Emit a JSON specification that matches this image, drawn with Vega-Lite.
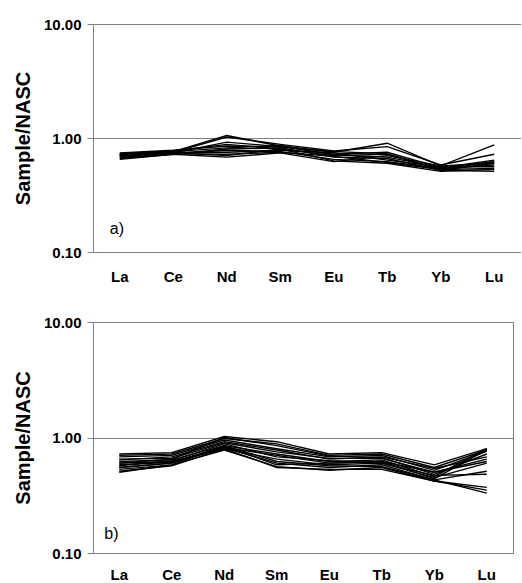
{
  "$schema": "https://vega.github.io/schema/vega-lite/v6.json",
  "padding": {"top": 17, "left": 12, "right": 0, "bottom": 0},
  "background": "white",
  "spacing": 30,
  "config": {
    "font": "Liberation Sans",
    "axis": {
      "labelFont": "Liberation Sans",
      "labelFontWeight": "bold",
      "labelFontSize": 15,
      "labelColor": "black",
      "titleFont": "Liberation Sans",
      "titleFontWeight": "bold",
      "titleFontSize": 20,
      "titleColor": "black",
      "domainColor": "#808080",
      "tickColor": "#808080",
      "gridColor": "#808080",
      "gridOpacity": 1
    },
    "line": {"color": "black", "strokeWidth": 1.4}
  },
  "datasets": {
    "a": [
      {"sample": "a1", "element": "La", "value": 0.72}, {"sample": "a1", "element": "Ce", "value": 0.76}, {"sample": "a1", "element": "Nd", "value": 1.05}, {"sample": "a1", "element": "Sm", "value": 0.85}, {"sample": "a1", "element": "Eu", "value": 0.75}, {"sample": "a1", "element": "Tb", "value": 0.90}, {"sample": "a1", "element": "Yb", "value": 0.57}, {"sample": "a1", "element": "Lu", "value": 0.87},
      {"sample": "a2", "element": "La", "value": 0.70}, {"sample": "a2", "element": "Ce", "value": 0.75}, {"sample": "a2", "element": "Nd", "value": 1.02}, {"sample": "a2", "element": "Sm", "value": 0.88}, {"sample": "a2", "element": "Eu", "value": 0.77}, {"sample": "a2", "element": "Tb", "value": 0.84}, {"sample": "a2", "element": "Yb", "value": 0.58}, {"sample": "a2", "element": "Lu", "value": 0.72},
      {"sample": "a3", "element": "La", "value": 0.68}, {"sample": "a3", "element": "Ce", "value": 0.74}, {"sample": "a3", "element": "Nd", "value": 0.92}, {"sample": "a3", "element": "Sm", "value": 0.84}, {"sample": "a3", "element": "Eu", "value": 0.72}, {"sample": "a3", "element": "Tb", "value": 0.75}, {"sample": "a3", "element": "Yb", "value": 0.55}, {"sample": "a3", "element": "Lu", "value": 0.64},
      {"sample": "a4", "element": "La", "value": 0.73}, {"sample": "a4", "element": "Ce", "value": 0.77}, {"sample": "a4", "element": "Nd", "value": 0.88}, {"sample": "a4", "element": "Sm", "value": 0.80}, {"sample": "a4", "element": "Eu", "value": 0.70}, {"sample": "a4", "element": "Tb", "value": 0.72}, {"sample": "a4", "element": "Yb", "value": 0.53}, {"sample": "a4", "element": "Lu", "value": 0.62},
      {"sample": "a5", "element": "La", "value": 0.66}, {"sample": "a5", "element": "Ce", "value": 0.72}, {"sample": "a5", "element": "Nd", "value": 0.80}, {"sample": "a5", "element": "Sm", "value": 0.82}, {"sample": "a5", "element": "Eu", "value": 0.68}, {"sample": "a5", "element": "Tb", "value": 0.66}, {"sample": "a5", "element": "Yb", "value": 0.52}, {"sample": "a5", "element": "Lu", "value": 0.60},
      {"sample": "a6", "element": "La", "value": 0.69}, {"sample": "a6", "element": "Ce", "value": 0.73}, {"sample": "a6", "element": "Nd", "value": 0.78}, {"sample": "a6", "element": "Sm", "value": 0.76}, {"sample": "a6", "element": "Eu", "value": 0.65}, {"sample": "a6", "element": "Tb", "value": 0.62}, {"sample": "a6", "element": "Yb", "value": 0.54}, {"sample": "a6", "element": "Lu", "value": 0.58},
      {"sample": "a7", "element": "La", "value": 0.71}, {"sample": "a7", "element": "Ce", "value": 0.75}, {"sample": "a7", "element": "Nd", "value": 0.75}, {"sample": "a7", "element": "Sm", "value": 0.78}, {"sample": "a7", "element": "Eu", "value": 0.74}, {"sample": "a7", "element": "Tb", "value": 0.64}, {"sample": "a7", "element": "Yb", "value": 0.56}, {"sample": "a7", "element": "Lu", "value": 0.56},
      {"sample": "a8", "element": "La", "value": 0.67}, {"sample": "a8", "element": "Ce", "value": 0.74}, {"sample": "a8", "element": "Nd", "value": 0.70}, {"sample": "a8", "element": "Sm", "value": 0.80}, {"sample": "a8", "element": "Eu", "value": 0.63}, {"sample": "a8", "element": "Tb", "value": 0.60}, {"sample": "a8", "element": "Yb", "value": 0.51}, {"sample": "a8", "element": "Lu", "value": 0.53},
      {"sample": "a9", "element": "La", "value": 0.72}, {"sample": "a9", "element": "Ce", "value": 0.76}, {"sample": "a9", "element": "Nd", "value": 0.82}, {"sample": "a9", "element": "Sm", "value": 0.86}, {"sample": "a9", "element": "Eu", "value": 0.71}, {"sample": "a9", "element": "Tb", "value": 0.68}, {"sample": "a9", "element": "Yb", "value": 0.55}, {"sample": "a9", "element": "Lu", "value": 0.62},
      {"sample": "a10", "element": "La", "value": 0.70}, {"sample": "a10", "element": "Ce", "value": 0.73}, {"sample": "a10", "element": "Nd", "value": 0.72}, {"sample": "a10", "element": "Sm", "value": 0.75}, {"sample": "a10", "element": "Eu", "value": 0.69}, {"sample": "a10", "element": "Tb", "value": 0.61}, {"sample": "a10", "element": "Yb", "value": 0.53}, {"sample": "a10", "element": "Lu", "value": 0.54},
      {"sample": "a11", "element": "La", "value": 0.65}, {"sample": "a11", "element": "Ce", "value": 0.72}, {"sample": "a11", "element": "Nd", "value": 0.68}, {"sample": "a11", "element": "Sm", "value": 0.74}, {"sample": "a11", "element": "Eu", "value": 0.62}, {"sample": "a11", "element": "Tb", "value": 0.70}, {"sample": "a11", "element": "Yb", "value": 0.57}, {"sample": "a11", "element": "Lu", "value": 0.60},
      {"sample": "a12", "element": "La", "value": 0.74}, {"sample": "a12", "element": "Ce", "value": 0.78}, {"sample": "a12", "element": "Nd", "value": 0.85}, {"sample": "a12", "element": "Sm", "value": 0.84}, {"sample": "a12", "element": "Eu", "value": 0.76}, {"sample": "a12", "element": "Tb", "value": 0.73}, {"sample": "a12", "element": "Yb", "value": 0.52}, {"sample": "a12", "element": "Lu", "value": 0.51}
    ],
    "b": [
      {"sample": "b1", "element": "La", "value": 0.72}, {"sample": "b1", "element": "Ce", "value": 0.74}, {"sample": "b1", "element": "Nd", "value": 1.02}, {"sample": "b1", "element": "Sm", "value": 0.92}, {"sample": "b1", "element": "Eu", "value": 0.72}, {"sample": "b1", "element": "Tb", "value": 0.74}, {"sample": "b1", "element": "Yb", "value": 0.58}, {"sample": "b1", "element": "Lu", "value": 0.80},
      {"sample": "b2", "element": "La", "value": 0.70}, {"sample": "b2", "element": "Ce", "value": 0.72}, {"sample": "b2", "element": "Nd", "value": 0.98}, {"sample": "b2", "element": "Sm", "value": 0.88}, {"sample": "b2", "element": "Eu", "value": 0.70}, {"sample": "b2", "element": "Tb", "value": 0.72}, {"sample": "b2", "element": "Yb", "value": 0.55}, {"sample": "b2", "element": "Lu", "value": 0.78},
      {"sample": "b3", "element": "La", "value": 0.68}, {"sample": "b3", "element": "Ce", "value": 0.70}, {"sample": "b3", "element": "Nd", "value": 0.95}, {"sample": "b3", "element": "Sm", "value": 0.80}, {"sample": "b3", "element": "Eu", "value": 0.68}, {"sample": "b3", "element": "Tb", "value": 0.70}, {"sample": "b3", "element": "Yb", "value": 0.52}, {"sample": "b3", "element": "Lu", "value": 0.76},
      {"sample": "b4", "element": "La", "value": 0.65}, {"sample": "b4", "element": "Ce", "value": 0.66}, {"sample": "b4", "element": "Nd", "value": 0.90}, {"sample": "b4", "element": "Sm", "value": 0.75}, {"sample": "b4", "element": "Eu", "value": 0.66}, {"sample": "b4", "element": "Tb", "value": 0.66}, {"sample": "b4", "element": "Yb", "value": 0.50}, {"sample": "b4", "element": "Lu", "value": 0.65},
      {"sample": "b5", "element": "La", "value": 0.62}, {"sample": "b5", "element": "Ce", "value": 0.64}, {"sample": "b5", "element": "Nd", "value": 0.85}, {"sample": "b5", "element": "Sm", "value": 0.72}, {"sample": "b5", "element": "Eu", "value": 0.62}, {"sample": "b5", "element": "Tb", "value": 0.64}, {"sample": "b5", "element": "Yb", "value": 0.46}, {"sample": "b5", "element": "Lu", "value": 0.80},
      {"sample": "b6", "element": "La", "value": 0.60}, {"sample": "b6", "element": "Ce", "value": 0.62}, {"sample": "b6", "element": "Nd", "value": 0.82}, {"sample": "b6", "element": "Sm", "value": 0.70}, {"sample": "b6", "element": "Eu", "value": 0.60}, {"sample": "b6", "element": "Tb", "value": 0.62}, {"sample": "b6", "element": "Yb", "value": 0.44}, {"sample": "b6", "element": "Lu", "value": 0.78},
      {"sample": "b7", "element": "La", "value": 0.58}, {"sample": "b7", "element": "Ce", "value": 0.61}, {"sample": "b7", "element": "Nd", "value": 0.80}, {"sample": "b7", "element": "Sm", "value": 0.65}, {"sample": "b7", "element": "Eu", "value": 0.58}, {"sample": "b7", "element": "Tb", "value": 0.60}, {"sample": "b7", "element": "Yb", "value": 0.45}, {"sample": "b7", "element": "Lu", "value": 0.60},
      {"sample": "b8", "element": "La", "value": 0.55}, {"sample": "b8", "element": "Ce", "value": 0.60}, {"sample": "b8", "element": "Nd", "value": 0.82}, {"sample": "b8", "element": "Sm", "value": 0.60}, {"sample": "b8", "element": "Eu", "value": 0.55}, {"sample": "b8", "element": "Tb", "value": 0.58}, {"sample": "b8", "element": "Yb", "value": 0.43}, {"sample": "b8", "element": "Lu", "value": 0.51},
      {"sample": "b9", "element": "La", "value": 0.53}, {"sample": "b9", "element": "Ce", "value": 0.58}, {"sample": "b9", "element": "Nd", "value": 0.78}, {"sample": "b9", "element": "Sm", "value": 0.56}, {"sample": "b9", "element": "Eu", "value": 0.52}, {"sample": "b9", "element": "Tb", "value": 0.55}, {"sample": "b9", "element": "Yb", "value": 0.42}, {"sample": "b9", "element": "Lu", "value": 0.37},
      {"sample": "b10", "element": "La", "value": 0.51}, {"sample": "b10", "element": "Ce", "value": 0.57}, {"sample": "b10", "element": "Nd", "value": 0.80}, {"sample": "b10", "element": "Sm", "value": 0.55}, {"sample": "b10", "element": "Eu", "value": 0.53}, {"sample": "b10", "element": "Tb", "value": 0.53}, {"sample": "b10", "element": "Yb", "value": 0.42}, {"sample": "b10", "element": "Lu", "value": 0.35},
      {"sample": "b11", "element": "La", "value": 0.50}, {"sample": "b11", "element": "Ce", "value": 0.58}, {"sample": "b11", "element": "Nd", "value": 0.85}, {"sample": "b11", "element": "Sm", "value": 0.62}, {"sample": "b11", "element": "Eu", "value": 0.57}, {"sample": "b11", "element": "Tb", "value": 0.56}, {"sample": "b11", "element": "Yb", "value": 0.43}, {"sample": "b11", "element": "Lu", "value": 0.33},
      {"sample": "b12", "element": "La", "value": 0.57}, {"sample": "b12", "element": "Ce", "value": 0.63}, {"sample": "b12", "element": "Nd", "value": 0.88}, {"sample": "b12", "element": "Sm", "value": 0.68}, {"sample": "b12", "element": "Eu", "value": 0.63}, {"sample": "b12", "element": "Tb", "value": 0.60}, {"sample": "b12", "element": "Yb", "value": 0.47}, {"sample": "b12", "element": "Lu", "value": 0.48},
      {"sample": "b13", "element": "La", "value": 0.64}, {"sample": "b13", "element": "Ce", "value": 0.68}, {"sample": "b13", "element": "Nd", "value": 0.92}, {"sample": "b13", "element": "Sm", "value": 0.78}, {"sample": "b13", "element": "Eu", "value": 0.65}, {"sample": "b13", "element": "Tb", "value": 0.68}, {"sample": "b13", "element": "Yb", "value": 0.54}, {"sample": "b13", "element": "Lu", "value": 0.68},
      {"sample": "b14", "element": "La", "value": 0.60}, {"sample": "b14", "element": "Ce", "value": 0.65}, {"sample": "b14", "element": "Nd", "value": 1.00}, {"sample": "b14", "element": "Sm", "value": 0.85}, {"sample": "b14", "element": "Eu", "value": 0.69}, {"sample": "b14", "element": "Tb", "value": 0.67}, {"sample": "b14", "element": "Yb", "value": 0.48}, {"sample": "b14", "element": "Lu", "value": 0.72},
      {"sample": "b15", "element": "La", "value": 0.55}, {"sample": "b15", "element": "Ce", "value": 0.60}, {"sample": "b15", "element": "Nd", "value": 0.84}, {"sample": "b15", "element": "Sm", "value": 0.58}, {"sample": "b15", "element": "Eu", "value": 0.60}, {"sample": "b15", "element": "Tb", "value": 0.62}, {"sample": "b15", "element": "Yb", "value": 0.50}, {"sample": "b15", "element": "Lu", "value": 0.62}
    ],
    "bounds": [{"element": "Ce"}, {"element": "Nd"}, {"element": "Sm"}, {"element": "Eu"}, {"element": "Tb"}, {"element": "Yb"}, {"element": "Lu"}],
    "labels_a": [{"element": "La", "value": 0.159, "label": "a)"}],
    "labels_b": [{"element": "La", "value": 0.145, "label": "b)"}]
  },
  "vconcat": [
    {
      "width": 428,
      "height": 228,
      "view": {"stroke": null},
      "encoding": {
        "x": {
          "field": "element", "type": "nominal", "sort": ["La", "Ce", "Nd", "Sm", "Eu", "Tb", "Yb", "Lu"], "bandPosition": 0.5,
          "scale": {"type": "band", "paddingInner": 0, "paddingOuter": 0},
          "axis": {"orient": "bottom", "title": null, "ticks": false, "domain": false, "labelPadding": 17, "labelAngle": 0, "grid": false}
        },
        "y": {
          "field": "value", "type": "quantitative",
          "scale": {"type": "log", "domain": [0.1, 10]},
          "axis": {"values": [0.1, 1, 10], "format": ".2f", "title": "Sample/NASC", "grid": true, "tickSize": 6, "labelPadding": 6, "titlePadding": 10}
        }
      },
      "layer": [
        {
          "data": {"name": "bounds"},
          "mark": {"type": "rule", "color": "#707070", "strokeWidth": 1},
          "encoding": {
            "x": {"field": "element", "type": "nominal", "sort": ["La", "Ce", "Nd", "Sm", "Eu", "Tb", "Yb", "Lu"], "bandPosition": 0},
            "y": {"datum": 1},
            "y2": {"datum": 0.904}
          }
        },
        {
          "data": {"name": "a"},
          "mark": {"type": "line"},
          "encoding": {
            "detail": {"field": "sample"}
          }
        },
        {
          "data": {"name": "labels_a"},
          "mark": {"type": "text", "align": "left", "baseline": "middle", "dx": -10, "fontSize": 16, "font": "Liberation Sans"},
          "encoding": {
            "text": {"field": "label"}
          }
        }
      ]
    },
    {
      "width": 420,
      "height": 231,
      "view": {"stroke": "#808080"},
      "encoding": {
        "x": {
          "field": "element", "type": "nominal", "sort": ["La", "Ce", "Nd", "Sm", "Eu", "Tb", "Yb", "Lu"], "bandPosition": 0.5,
          "scale": {"type": "band", "paddingInner": 0, "paddingOuter": 0},
          "axis": {"orient": "bottom", "title": null, "ticks": false, "domain": false, "labelPadding": 14, "labelAngle": 0, "grid": false}
        },
        "y": {
          "field": "value", "type": "quantitative",
          "scale": {"type": "log", "domain": [0.1, 10]},
          "axis": {"values": [0.1, 1, 10], "format": ".2f", "title": "Sample/NASC", "grid": true, "tickSize": 6, "labelPadding": 6, "titlePadding": 10}
        }
      },
      "layer": [
        {
          "data": {"name": "bounds"},
          "mark": {"type": "rule", "color": "#707070", "strokeWidth": 1},
          "encoding": {
            "x": {"field": "element", "type": "nominal", "sort": ["La", "Ce", "Nd", "Sm", "Eu", "Tb", "Yb", "Lu"], "bandPosition": 0},
            "y": {"datum": 1},
            "y2": {"datum": 0.905}
          }
        },
        {
          "data": {"name": "b"},
          "mark": {"type": "line"},
          "encoding": {
            "detail": {"field": "sample"}
          }
        },
        {
          "data": {"name": "labels_b"},
          "mark": {"type": "text", "align": "left", "baseline": "middle", "dx": -15, "fontSize": 16, "font": "Liberation Sans"},
          "encoding": {
            "text": {"field": "label"}
          }
        }
      ]
    }
  ]
}
